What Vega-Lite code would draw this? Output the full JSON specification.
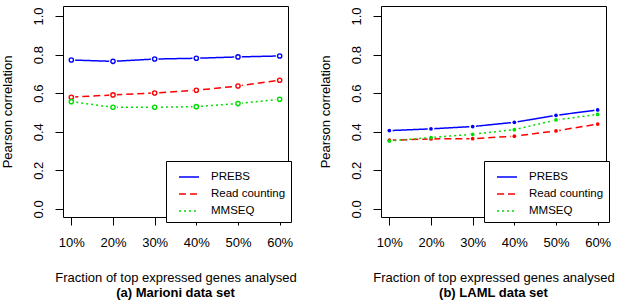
{
  "$schema": "https://vega.github.io/schema/vega-lite/v6.json",
  "padding": {"left": 0, "top": 5, "right": 0, "bottom": 0},
  "background": "white",
  "data": {
    "values": [
      {"set": "Marioni", "frac": 10, "method": "PREBS", "r": 0.772},
      {"set": "Marioni", "frac": 20, "method": "PREBS", "r": 0.765},
      {"set": "Marioni", "frac": 30, "method": "PREBS", "r": 0.777},
      {"set": "Marioni", "frac": 40, "method": "PREBS", "r": 0.781},
      {"set": "Marioni", "frac": 50, "method": "PREBS", "r": 0.788},
      {"set": "Marioni", "frac": 60, "method": "PREBS", "r": 0.793},
      {"set": "Marioni", "frac": 10, "method": "Read counting", "r": 0.579},
      {"set": "Marioni", "frac": 20, "method": "Read counting", "r": 0.591},
      {"set": "Marioni", "frac": 30, "method": "Read counting", "r": 0.601},
      {"set": "Marioni", "frac": 40, "method": "Read counting", "r": 0.615},
      {"set": "Marioni", "frac": 50, "method": "Read counting", "r": 0.637},
      {"set": "Marioni", "frac": 60, "method": "Read counting", "r": 0.667},
      {"set": "Marioni", "frac": 10, "method": "MMSEQ", "r": 0.556},
      {"set": "Marioni", "frac": 20, "method": "MMSEQ", "r": 0.527},
      {"set": "Marioni", "frac": 30, "method": "MMSEQ", "r": 0.527},
      {"set": "Marioni", "frac": 40, "method": "MMSEQ", "r": 0.530},
      {"set": "Marioni", "frac": 50, "method": "MMSEQ", "r": 0.546},
      {"set": "Marioni", "frac": 60, "method": "MMSEQ", "r": 0.568},
      {"set": "LAML", "frac": 10, "method": "PREBS", "r": 0.406},
      {"set": "LAML", "frac": 20, "method": "PREBS", "r": 0.415},
      {"set": "LAML", "frac": 30, "method": "PREBS", "r": 0.427},
      {"set": "LAML", "frac": 40, "method": "PREBS", "r": 0.449},
      {"set": "LAML", "frac": 50, "method": "PREBS", "r": 0.485},
      {"set": "LAML", "frac": 60, "method": "PREBS", "r": 0.513},
      {"set": "LAML", "frac": 10, "method": "Read counting", "r": 0.356},
      {"set": "LAML", "frac": 20, "method": "Read counting", "r": 0.363},
      {"set": "LAML", "frac": 30, "method": "Read counting", "r": 0.364},
      {"set": "LAML", "frac": 40, "method": "Read counting", "r": 0.377},
      {"set": "LAML", "frac": 50, "method": "Read counting", "r": 0.404},
      {"set": "LAML", "frac": 60, "method": "Read counting", "r": 0.440},
      {"set": "LAML", "frac": 10, "method": "MMSEQ", "r": 0.352},
      {"set": "LAML", "frac": 20, "method": "MMSEQ", "r": 0.370},
      {"set": "LAML", "frac": 30, "method": "MMSEQ", "r": 0.387},
      {"set": "LAML", "frac": 40, "method": "MMSEQ", "r": 0.411},
      {"set": "LAML", "frac": 50, "method": "MMSEQ", "r": 0.461},
      {"set": "LAML", "frac": 60, "method": "MMSEQ", "r": 0.490}
    ]
  },
  "spacing": 21,
  "resolve": {
    "scale": {"color": "independent", "strokeDash": "independent", "x": "independent", "y": "independent"},
    "legend": {"color": "independent", "strokeDash": "independent"}
  },
  "hconcat": [
    {
      "width": 225,
      "height": 211,
      "title": {"text": "(a) Marioni data set", "orient": "bottom", "anchor": "middle", "fontWeight": "bold", "fontSize": 13, "offset": 3, "font": "Liberation Sans", "color": "black"},
      "transform": [{"filter": "datum.set == 'Marioni'"}],
      "encoding": {
        "x": {"field": "frac", "type": "quantitative", "scale": {"domain": [8, 62], "nice": false, "zero": false},
              "axis": {"title": "Fraction of top expressed genes analysed", "values": [10, 20, 30, 40, 50, 60], "labelExpr": "datum.value + '%'"}},
        "y": {"field": "r", "type": "quantitative", "scale": {"domain": [-0.042, 1.052], "nice": false, "zero": false},
              "axis": {"title": "Pearson correlation", "values": [0, 0.2, 0.4, 0.6, 0.8, 1.0], "format": ".1f"}}
      },
      "layer": [
        {
          "mark": {"type": "line", "strokeWidth": 1.5},
          "encoding": {
            "color": {"field": "method", "type": "nominal", "sort": ["PREBS", "Read counting", "MMSEQ"],
                      "scale": {"domain": ["PREBS", "Read counting", "MMSEQ"], "range": ["#0000ff", "#ff0000", "#00dd00"]},
                      "legend": {"title": null, "orient": "none", "legendX": 103, "legendY": 155}},
            "strokeDash": {"field": "method", "type": "nominal", "sort": ["PREBS", "Read counting", "MMSEQ"],
                      "scale": {"domain": ["PREBS", "Read counting", "MMSEQ"], "range": [[1, 0], [7, 4], [2, 3]]},
                      "legend": {"title": null, "orient": "none", "legendX": 103, "legendY": 155}}
          }
        },
        {
          "mark": {"type": "point", "filled": true, "color": "white", "size": 60, "opacity": 1},
          "encoding": {"detail": {"field": "method", "type": "nominal"}}
        },
        {
          "mark": {"type": "point", "filled": false, "size": 18, "strokeWidth": 1.4, "opacity": 1},
          "encoding": {
            "color": {"field": "method", "type": "nominal",
                      "scale": {"domain": ["PREBS", "Read counting", "MMSEQ"], "range": ["#0000ff", "#ff0000", "#00dd00"]},
                      "legend": null}
          }
        }
      ]
    },
    {
      "width": 225,
      "height": 211,
      "title": {"text": "(b) LAML data set", "orient": "bottom", "anchor": "middle", "fontWeight": "bold", "fontSize": 13, "offset": 3, "font": "Liberation Sans", "color": "black"},
      "transform": [{"filter": "datum.set == 'LAML'"}],
      "encoding": {
        "x": {"field": "frac", "type": "quantitative", "scale": {"domain": [8, 62], "nice": false, "zero": false},
              "axis": {"title": "Fraction of top expressed genes analysed", "values": [10, 20, 30, 40, 50, 60], "labelExpr": "datum.value + '%'"}},
        "y": {"field": "r", "type": "quantitative", "scale": {"domain": [-0.042, 1.052], "nice": false, "zero": false},
              "axis": {"title": "Pearson correlation", "values": [0, 0.2, 0.4, 0.6, 0.8, 1.0], "format": ".1f"}}
      },
      "layer": [
        {
          "mark": {"type": "line", "strokeWidth": 1.5},
          "encoding": {
            "color": {"field": "method", "type": "nominal", "sort": ["PREBS", "Read counting", "MMSEQ"],
                      "scale": {"domain": ["PREBS", "Read counting", "MMSEQ"], "range": ["#0000ff", "#ff0000", "#00dd00"]},
                      "legend": {"title": null, "orient": "none", "legendX": 103, "legendY": 155}},
            "strokeDash": {"field": "method", "type": "nominal", "sort": ["PREBS", "Read counting", "MMSEQ"],
                      "scale": {"domain": ["PREBS", "Read counting", "MMSEQ"], "range": [[1, 0], [7, 4], [2, 3]]},
                      "legend": {"title": null, "orient": "none", "legendX": 103, "legendY": 155}}
          }
        },
        {
          "mark": {"type": "point", "filled": true, "color": "white", "size": 45, "opacity": 1},
          "encoding": {"detail": {"field": "method", "type": "nominal"}}
        },
        {
          "mark": {"type": "point", "filled": true, "size": 14, "opacity": 1},
          "encoding": {
            "color": {"field": "method", "type": "nominal",
                      "scale": {"domain": ["PREBS", "Read counting", "MMSEQ"], "range": ["#0000ff", "#ff0000", "#00dd00"]},
                      "legend": null}
          }
        }
      ]
    }
  ],
  "config": {
    "font": "Liberation Sans",
    "view": {"stroke": "black", "strokeWidth": 1},
    "axis": {
      "domain": false,
      "grid": false,
      "ticks": true,
      "tickColor": "black",
      "tickSize": 8,
      "tickWidth": 1,
      "labelFont": "Liberation Sans",
      "labelFontSize": 13,
      "labelColor": "black",
      "titleFont": "Liberation Sans",
      "titleFontSize": 13,
      "titleFontWeight": "normal",
      "titleColor": "black"
    },
    "axisX": {"labelPadding": 11, "titlePadding": 22, "labelFlush": false},
    "axisY": {"labelAngle": 270, "labelAlign": "center", "labelBaseline": "bottom", "labelPadding": 10, "titlePadding": 18, "labelFlush": false},
    "legend": {
      "strokeColor": "black",
      "fillColor": "white",
      "padding": 5,
      "cornerRadius": 0,
      "symbolType": "stroke",
      "symbolSize": 400,
      "symbolStrokeWidth": 1.5,
      "symbolOffset": 7,
      "labelOffset": 11,
      "labelFont": "Liberation Sans",
      "labelFontSize": 11.5,
      "labelColor": "black",
      "rowPadding": -8.5
    }
  }
}
